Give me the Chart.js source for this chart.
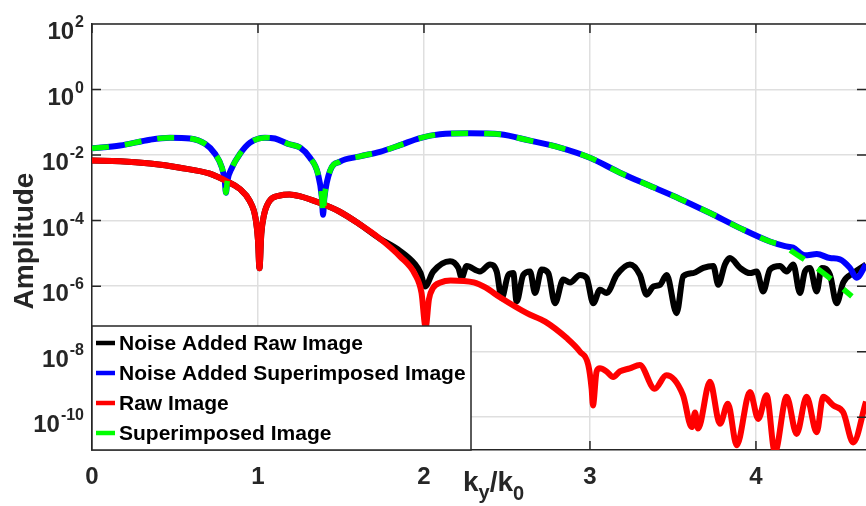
<!DOCTYPE html>
<html>
<head>
<meta charset="utf-8">
<script src="https://cdn.jsdelivr.net/npm/chart.js@4.4.1/dist/chart.umd.min.js"></script>
<style>
  html, body { margin: 0; padding: 0; background: #fff; }
  canvas { display: block; }
</style>
</head>
<body>
<canvas id="chart" width="866" height="506"></canvas>
<script>
// values (x in k_y/k_0, y = amplitude)
const rawX = [0, 0.17, 0.35, 0.53, 0.71, 0.81, 0.89, 0.95, 0.985, 1.0, 1.009, 1.02, 1.035, 1.07, 1.13,
  1.19, 1.25, 1.37, 1.49, 1.61, 1.735, 1.855, 1.946, 1.985, 2.01, 2.03, 2.054, 2.10, 2.16, 2.30,
  2.37, 2.46, 2.62, 2.73, 2.86, 2.94, 2.99, 3.01, 3.018, 3.04, 3.06, 3.10, 3.14, 3.18, 3.24,
  3.30, 3.39, 3.46, 3.56, 3.613, 3.633, 3.651, 3.723, 3.783, 3.831, 3.884, 3.964, 4.014, 4.064, 4.114,
  4.185, 4.245, 4.305, 4.366, 4.405, 4.466, 4.526, 4.586, 4.663];
const rawY = [6.8e-3, 6.5e-3, 5.5e-3, 4.1e-3, 2.7e-3, 1.6e-3, 9.3e-4, 4.0e-4, 1.2e-4, 2.5e-5, 3.5e-6, 4.0e-5, 1.4e-4, 4.0e-4, 5.8e-4,
  6.3e-4, 5.6e-4, 3.5e-4, 1.9e-4, 7.9e-5, 2.8e-5, 8.1e-6, 2.3e-6, 6.3e-7, 5.6e-8, 4.0e-7, 8.7e-7, 1.3e-6, 1.5e-6, 1.3e-6,
  9.1e-7, 4.5e-7, 1.5e-7, 8.3e-8, 2.6e-8, 1.0e-8, 3.9e-9, 7.4e-10, 2.3e-10, 2.5e-9, 3.1e-9, 2.5e-9, 1.7e-9, 2.5e-9, 3.1e-9,
  3.9e-9, 7.4e-10, 1.9e-9, 4.8e-10, 5.0e-11, 1.4e-10, 4.5e-11, 1.2e-9, 6.3e-11, 2.6e-10, 1.4e-11, 5.9e-10, 8.9e-11, 4.7e-10, 8.5e-12,
  4.2e-10, 3.1e-11, 4.2e-10, 3.5e-11, 4.2e-10, 2.3e-10, 1.4e-10, 1.7e-11, 3.0e-10];

const noisyRawX = [0, 0.17, 0.35, 0.53, 0.71, 0.81, 0.89, 0.95, 0.985, 1.0, 1.009, 1.02, 1.035, 1.07, 1.13,
  1.19, 1.25, 1.37, 1.49, 1.61, 1.735, 1.855, 1.946, 1.98, 2.006, 2.056, 2.157, 2.207, 2.227, 2.257,
  2.337, 2.398, 2.438, 2.468, 2.508, 2.538, 2.558, 2.598, 2.639, 2.669, 2.709, 2.749, 2.789, 2.839, 2.880,
  2.940, 2.980, 3.020, 3.060, 3.101, 3.161, 3.241, 3.301, 3.341, 3.382, 3.422, 3.462, 3.522, 3.562, 3.622,
  3.683, 3.743, 3.773, 3.813, 3.843, 3.904, 3.964, 4.004, 4.044, 4.084, 4.145, 4.185, 4.225, 4.265, 4.295,
  4.325, 4.366, 4.396, 4.446, 4.486, 4.526, 4.586, 4.663];
const noisyRawY = [6.8e-3, 6.5e-3, 5.5e-3, 4.1e-3, 2.7e-3, 1.6e-3, 9.3e-4, 4.0e-4, 1.2e-4, 2.5e-5, 3.5e-6, 4.0e-5, 1.4e-4, 4.0e-4, 5.8e-4,
  6.3e-4, 5.6e-4, 3.5e-4, 1.9e-4, 7.9e-5, 2.8e-5, 1.2e-5, 4.7e-6, 2.5e-6, 9.8e-7, 2.8e-6, 5.8e-6, 3.6e-6, 1.8e-6, 4.1e-6,
  2.8e-6, 4.6e-6, 2.8e-6, 4.3e-7, 2.2e-6, 2.5e-6, 3.4e-7, 2.2e-6, 2.8e-6, 6.2e-7, 3.2e-6, 2.5e-6, 3.0e-7, 1.6e-6, 1.3e-6,
  2.2e-6, 1.8e-6, 3.0e-7, 7.8e-7, 6.2e-7, 2.2e-6, 4.6e-6, 2.2e-6, 5.5e-7, 9.8e-7, 1.1e-6, 2.2e-6, 1.5e-7, 2.0e-6, 2.5e-6,
  3.6e-6, 4.1e-6, 1.1e-6, 4.6e-6, 7.2e-6, 3.6e-6, 2.5e-6, 2.8e-6, 6.9e-7, 3.2e-6, 4.1e-6, 2.8e-6, 4.6e-6, 6.2e-7, 2.8e-6,
  3.6e-6, 6.9e-7, 3.6e-6, 2.2e-6, 3.0e-7, 1.3e-6, 2.5e-6, 4.6e-6];

const superX = [0, 0.169, 0.349, 0.47, 0.59, 0.681, 0.741, 0.783, 0.80, 0.807, 0.815, 0.843, 0.892, 0.952, 1.042,
  1.102, 1.181, 1.253, 1.313, 1.361, 1.385, 1.392, 1.40, 1.434, 1.494, 1.614, 1.735, 1.855, 1.976, 2.096,
  2.277, 2.458, 2.639, 2.819, 3.0, 3.181, 3.361, 3.542, 3.723, 3.904, 4.084, 4.175, 4.223, 4.325, 4.416, 4.578];
const superY = [1.6e-2, 1.95e-2, 2.95e-2, 3.4e-2, 3.2e-2, 2.2e-2, 1.1e-2, 4.1e-3, 1.6e-3, 7.1e-4, 1.6e-3, 4.1e-3, 1.1e-2, 2.4e-2, 3.4e-2,
  3.2e-2, 2.2e-2, 1.7e-2, 8.3e-3, 2.7e-3, 5.0e-4, 1.5e-4, 5.0e-4, 3.3e-3, 6.3e-3, 9.1e-3, 1.26e-2, 2.0e-2, 3.3e-2, 4.3e-2,
  4.6e-2, 4.3e-2, 2.75e-2, 1.7e-2, 8.3e-3, 2.9e-3, 1.15e-3, 4.6e-4, 1.7e-4, 5.9e-5, 2.3e-5, 1.66e-5, 1.1e-5, 5.0e-6, 2.3e-6, 4.9e-7];

const noisySuperX = [0, 0.169, 0.349, 0.47, 0.59, 0.681, 0.741, 0.783, 0.80, 0.807, 0.815, 0.843, 0.892, 0.952, 1.042,
  1.102, 1.181, 1.253, 1.313, 1.361, 1.385, 1.392, 1.40, 1.434, 1.494, 1.614, 1.735, 1.855, 1.976, 2.096,
  2.277, 2.458, 2.639, 2.819, 3.0, 3.181, 3.361, 3.542, 3.723, 3.904, 4.084, 4.175, 4.223, 4.295, 4.367,
  4.446, 4.506, 4.566, 4.606, 4.663];
const noisySuperY = [1.6e-2, 1.95e-2, 2.95e-2, 3.4e-2, 3.2e-2, 2.2e-2, 1.1e-2, 4.1e-3, 1.6e-3, 7.1e-4, 1.6e-3, 4.1e-3, 1.1e-2, 2.4e-2, 3.4e-2,
  3.2e-2, 2.2e-2, 1.7e-2, 8.3e-3, 2.7e-3, 5.0e-4, 1.5e-4, 5.0e-4, 3.3e-3, 6.3e-3, 9.1e-3, 1.26e-2, 2.0e-2, 3.3e-2, 4.3e-2,
  4.6e-2, 4.3e-2, 2.75e-2, 1.7e-2, 8.3e-3, 2.9e-3, 1.15e-3, 4.6e-4, 1.7e-4, 5.9e-5, 2.3e-5, 1.66e-5, 1.5e-5, 8.7e-6, 9.5e-6,
  7.2e-6, 6.6e-6, 3.6e-6, 1.8e-6, 4.6e-6];

const xTicks = [0, 1, 2, 3, 4];
const yTicks = [1e-10, 1e-8, 1e-6, 1e-4, 1e-2, 1, 1e2];
const yExponents = ['-10', '-8', '-6', '-4', '-2', '0', '2'];

const seriesNames = ['Noise Added Raw Image', 'Noise Added Superimposed Image', 'Raw Image', 'Superimposed Image'];
const seriesColors = ['#000000', '#0000ff', '#ff0000', '#00ff00'];

const FONT = '"Liberation Sans", Arial, Helvetica, sans-serif';
const INK = '#262626';

function pts(xs, ys) { return xs.map((x, i) => ({ x, y: ys[i] })); }

// matlab-ish decorations: box, inward ticks, superscript labels, legend inside the axes
const matlabAxes = {
  id: 'matlabAxes',
  afterDraw(chart) {
    const { ctx, chartArea: a, scales: { x, y } } = chart;
    ctx.save();
    ctx.strokeStyle = INK;
    ctx.lineWidth = 1.5;
    ctx.beginPath();
    ctx.moveTo(a.left, a.top); ctx.lineTo(a.right, a.top);
    x.ticks.forEach(t => {
      const px = x.getPixelForValue(t.value);
      ctx.moveTo(px, a.bottom); ctx.lineTo(px, a.bottom - 9);
      ctx.moveTo(px, a.top); ctx.lineTo(px, a.top + 9);
    });
    y.ticks.forEach(t => {
      const py = y.getPixelForValue(t.value);
      ctx.moveTo(a.left, py); ctx.lineTo(a.left + 9, py);
      ctx.moveTo(a.right, py); ctx.lineTo(a.right - 9, py);
    });
    ctx.stroke();

    // y tick labels 10^n
    ctx.fillStyle = INK;
    ctx.textBaseline = 'alphabetic';
    yTicks.forEach((v, i) => {
      const py = y.getPixelForValue(v);
      ctx.font = 'bold 16px ' + FONT;
      const ew = ctx.measureText(yExponents[i]).width;
      const ex = a.left - 8 - ew;
      ctx.textAlign = 'left';
      ctx.fillText(yExponents[i], ex, py + 3);
      ctx.font = 'bold 24px ' + FONT;
      ctx.textAlign = 'right';
      ctx.fillText('10', ex - 1, py + 15);
    });

    // y title
    ctx.save();
    ctx.translate(33, 241);
    ctx.rotate(-Math.PI / 2);
    ctx.font = 'bold 28px ' + FONT;
    ctx.textAlign = 'center';
    ctx.fillText('Amplitude', 0, 0);
    ctx.restore();

    // x title k_y/k_0
    ctx.textAlign = 'left';
    let cx = 463;
    const parts = [['k', 28, 491], ['y', 20, 499], ['/', 28, 491], ['k', 28, 491], ['0', 20, 500]];
    parts.forEach(([s, size, base]) => {
      ctx.font = 'bold ' + size + 'px ' + FONT;
      ctx.fillText(s, cx, base);
      cx += ctx.measureText(s).width;
    });

    // legend
    const lx = a.left, ly = 326, lw = 379, lh = a.bottom - 326;
    ctx.fillStyle = '#fff';
    ctx.fillRect(lx, ly, lw, lh);
    ctx.strokeStyle = INK;
    ctx.lineWidth = 1.5;
    ctx.strokeRect(lx, ly, lw, lh);
    ctx.font = 'bold 21px ' + FONT;
    ctx.textBaseline = 'middle';
    seriesNames.forEach((name, i) => {
      const yy = 343 + i * 30;
      ctx.strokeStyle = seriesColors[i];
      ctx.lineWidth = 4.5;
      ctx.beginPath();
      ctx.moveTo(lx + 4, yy); ctx.lineTo(lx + 23, yy);
      ctx.stroke();
      ctx.fillStyle = '#000';
      ctx.fillText(name, lx + 27, yy + 1);
    });
    ctx.restore();
  }
};

Chart.defaults.font.family = FONT;

new Chart(document.getElementById('chart'), {
  type: 'line',
  data: {
    datasets: [
      { label: seriesNames[0], data: pts(noisyRawX, noisyRawY), borderColor: seriesColors[0], borderWidth: 6, order: 4 },
      { label: seriesNames[1], data: pts(noisySuperX, noisySuperY), borderColor: seriesColors[1], borderWidth: 6, order: 3 },
      { label: seriesNames[2], data: pts(rawX, rawY), borderColor: seriesColors[2], borderWidth: 6, order: 2 },
      { label: seriesNames[3], data: pts(superX, superY), borderColor: seriesColors[3], borderWidth: 5.5, borderDash: [17, 16], order: 1 }
    ]
  },
  options: {
    responsive: false,
    animation: false,
    events: [],
    elements: {
      point: { radius: 0 },
      line: { cubicInterpolationMode: 'monotone', fill: false, borderJoinStyle: 'round', borderCapStyle: 'butt' }
    },
    layout: { padding: { top: 24, right: 0, left: 0, bottom: 0 } },
    plugins: { legend: { display: false }, tooltip: { enabled: false } },
    scales: {
      x: {
        type: 'linear',
        min: 0,
        max: 4.663,
        afterBuildTicks: s => { s.ticks = xTicks.map(v => ({ value: v })); },
        afterFit: s => { s.height = 56; },
        grid: { color: '#dfdfdf', lineWidth: 1.5, drawTicks: false },
        border: { color: INK, width: 1.5 },
        ticks: { color: INK, font: { size: 24, weight: 'bold' }, padding: 13, maxRotation: 0 }
      },
      y: {
        type: 'logarithmic',
        min: 1e-11,
        max: 1e2,
        afterBuildTicks: s => { s.ticks = yTicks.map(v => ({ value: v })); },
        afterFit: s => { s.width = 92; },
        grid: { color: '#dfdfdf', lineWidth: 1.5, drawTicks: false },
        border: { color: INK, width: 1.5 },
        ticks: { display: false }
      }
    }
  },
  plugins: [matlabAxes]
});
</script>
</body>
</html>
